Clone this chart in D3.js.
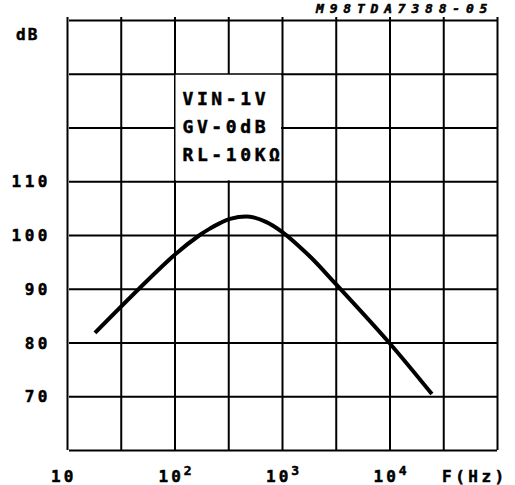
<!DOCTYPE html>
<html>
<head>
<meta charset="utf-8">
<script src="https://cdn.jsdelivr.net/npm/d3@7"></script>
<style>
    body { margin: 0; background: #fff; }
    svg text { font-family: "DejaVu Sans Mono", monospace; font-weight: bold; fill: #000; stroke: #000; stroke-width: 0.5; }
</style>
</head>
<body>
<svg id="chart" width="515" height="485"></svg>
<script>
// frequency response
const freqHz = [18.2, 100, 172, 214, 265, 328, 503, 700, 1000, 1820, 3160, 9890, 24800];
const gainDb = [81.8, 96.3, 100.0, 101.2, 102.2, 103.0, 103.4, 102.5, 100.6, 96.0, 90.9, 80.0, 70.4];

const gridFreqs = [10, 31.62, 100, 316.2, 1000, 3162, 10000, 31620, 100000];
const gridDb = [60, 70, 80, 90, 100, 110, 120, 130, 140];
const yLabels = [70, 80, 90, 100, 110];
const xLabels = [[10, ''], [100, '2'], [1000, '3'], [10000, '4']];
const notes = ['VIN-1V', 'GV-0dB', 'RL-10KΩ'];

const svg = d3.select('#chart');
const x = d3.scaleLog().domain([10, 1e5]).range([67, 497]);
const y = d3.scaleLinear().domain([60, 140]).range([450, 20]);

// grid
svg.append('g')
    .attr('transform', 'translate(0,450)')
    .call(d3.axisBottom(x).tickValues(gridFreqs).tickSize(-433).tickFormat(''))
    .call(g => g.select('.domain').remove())
    .call(g => g.selectAll('line').attr('stroke', '#000').attr('stroke-width', 2));

svg.append('g')
    .attr('transform', 'translate(67,0)')
    .call(d3.axisLeft(y).tickValues(gridDb).tickSize(-430).tickFormat(''))
    .call(g => g.select('.domain').remove())
    .call(g => g.selectAll('line').attr('stroke', '#000').attr('stroke-width', 2).attr('x1', 2));

// blank area for the test conditions
svg.append('rect')
    .attr('x', x(100) + 1).attr('y', y(130) + 1)
    .attr('width', x(1000) - x(100) - 2).attr('height', y(110) - y(130) - 2)
    .attr('fill', '#fff');

svg.selectAll('.note').data(notes).enter().append('text')
    .attr('class', 'note')
    .attr('x', x(100) + 8)
    .attr('y', (d, i) => y(130) + 31 + i * 28)
    .attr('font-size', 18)
    .attr('letter-spacing', 3.6)
    .text(d => d);

// curve
const line = d3.line()
    .x((d, i) => x(freqHz[i]))
    .y(d => y(d))
    .curve(d3.curveCatmullRom.alpha(0.5));

svg.append('path')
    .datum(gainDb)
    .attr('d', line)
    .attr('fill', 'none')
    .attr('stroke', '#000')
    .attr('stroke-width', 4);

// labels
svg.selectAll('.ylab').data(yLabels).enter().append('text')
    .attr('x', 51)
    .attr('y', d => y(d) + 6)
    .attr('text-anchor', 'end')
    .attr('font-size', 16)
    .attr('letter-spacing', 3.5)
    .text(d => d);

svg.append('text').attr('x', 16).attr('y', 40).attr('font-size', 16).attr('letter-spacing', 2).text('dB');

const xl = svg.selectAll('.xlab').data(xLabels).enter().append('text')
    .attr('x', d => x(d[0]) - 16)
    .attr('y', 482)
    .attr('font-size', 16)
    .attr('letter-spacing', 3);
xl.append('tspan').text('10');
xl.append('tspan').attr('dy', -7).attr('font-size', 13).text(d => d[1]);

svg.append('text').attr('x', 442).attr('y', 482).attr('font-size', 16).attr('letter-spacing', 3.5).text('F(Hz)');

svg.append('text')
    .attr('x', 316).attr('y', 13)
    .attr('font-size', 13)
    .attr('font-style', 'italic')
    .attr('letter-spacing', 5.8)
    .text('M98TDA7388-05');
</script>
</body>
</html>
